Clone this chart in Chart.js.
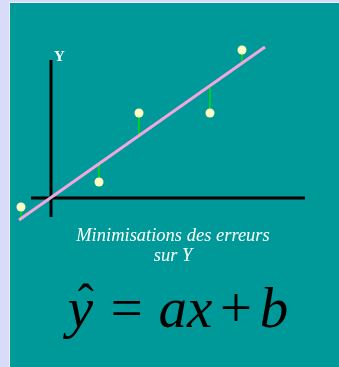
<!DOCTYPE html>
<html>
<head>
<meta charset="utf-8">
<script src="https://cdn.jsdelivr.net/npm/chart.js@4.4.1/dist/chart.umd.min.js"></script>
<style>
  html, body { margin:0; padding:0; }
  body { width:339px; height:367px; background:#d8dcf8; position:relative; overflow:hidden; }
  #panel { position:absolute; left:9px; top:2px; width:330px; height:365px; background:#009999;
           border-left:1px solid #eef0ff; border-top:1px solid #eef0ff; }
  #chart { position:absolute; left:0; top:0; }
  .txt { position:absolute; left:0; width:346px; text-align:center; font-family:"Liberation Serif", "Times New Roman", serif; white-space:nowrap; }
  #ylab { position:absolute; left:54px; top:48px; color:#fff; font:bold 15px "Liberation Serif", serif; }
  #cap1 { top:225px; color:#fff; font-style:italic; font-size:18.5px; }
  #cap2 { top:245px; color:#fff; font-style:italic; font-size:18.5px; }
  #formula { top:275px; width:356px; color:#000; font-style:italic; font-size:57px; line-height:66px; }
  .hat { position:relative; display:inline-block; }
  .hat::before { content:"\02C6"; position:absolute; left:10px; top:-6px; font-size:48px; font-style:normal; }
</style>
</head>
<body>
<div id="panel"></div>
<canvas id="chart" width="339" height="367"></canvas>
<div id="ylab">Y</div>
<div id="cap1" class="txt">Minimisations des erreurs</div>
<div id="cap2" class="txt">sur Y</div>
<div id="formula" class="txt"><span class="hat">y</span><span style="margin-left:14px">=</span><span style="margin-left:13px">ax</span><span style="margin-left:4px">+</span><span style="margin-left:5px">b</span></div>
<script>
// observed points (data units, origin where the black axes cross)
const pointX = [-1.5, 2.4, 4.4, 7.95, 9.55]
const pointY = [-0.45, 0.8, 4.25, 4.25, 7.4]
// where each residual meets the regression line
const fitY   = [-1.0, 1.65, 3.15, 5.5, 6.75]

// regression line ends
const lineX = [-1.6, 10.7]
const lineY = [-1.1, 7.55]

// black axes
const xAxisX = [-1.0, 12.7]
const xAxisY = [0, 0]
const yAxisX = [0, 0]
const yAxisY = [6.9, -0.95]

function pts(xs, ys){ return xs.map((x, i) => ({ x: x, y: ys[i] })) }

function lineSet(data, color, width){
      return { type:'line', data:data, borderColor:color, borderWidth:width,
               pointRadius:0, fill:false, tension:0, borderCapStyle:'butt' }
}

const datasets = []

datasets.push({ type:'scatter', data: pts(pointX, pointY),
                backgroundColor:'#ffffc4', borderWidth:0, pointRadius:4.5 })

datasets.push(lineSet(pts(lineX, lineY), '#f2a6dc', 3))

pointX.forEach((x, i) => {
      datasets.push(lineSet([{ x:x, y:pointY[i] }, { x:x, y:fitY[i] }], '#00e000', 1.5))
})

datasets.push(lineSet(pts(xAxisX, xAxisY), '#000', 3))
datasets.push(lineSet(pts(yAxisX, yAxisY), '#000', 3))

new Chart(document.getElementById('chart'), {
      type: 'scatter',
      data: { datasets: datasets },
      options: {
            responsive: false,
            animation: false,
            layout: { padding: 0, autoPadding: false },
            plugins: { legend: { display:false }, tooltip: { enabled:false } },
            scales: {
                  x: { type:'linear', display:false, min:-2.55, max:14.4 },
                  y: { type:'linear', display:false, min:-8.45, max:9.9 },
            }
      }
})
</script>
</body>
</html>
